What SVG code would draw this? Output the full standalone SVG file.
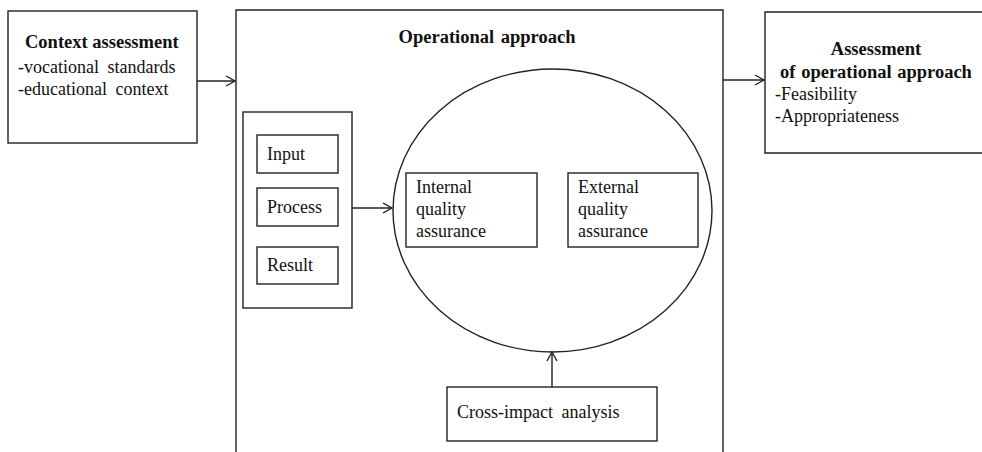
<svg xmlns="http://www.w3.org/2000/svg" width="982" height="452" viewBox="0 0 982 452">
  <defs>
    <style>
      .box { fill: #fff; stroke: #222; stroke-width: 1.4; }
      .ln { fill: none; stroke: #222; stroke-width: 1.4; }
      text { font-family: "Liberation Serif", "Times New Roman", serif; font-size: 18px; fill: #111; }
      .b { font-weight: bold; font-size: 18.5px; }
      .c { text-anchor: middle; }
    </style>
    <marker id="arrow" markerWidth="12" markerHeight="12" refX="10" refY="6" orient="auto" markerUnits="userSpaceOnUse">
      <polyline points="1,1 10,6 1,11" fill="none" stroke="#222" stroke-width="1.4"/>
    </marker>
  </defs>
  <rect width="982" height="452" fill="#fff"/>

  <!-- Context assessment -->
  <g id="context">
    <rect class="box" x="8" y="11" width="189" height="132"/>
    <text class="b" x="25" y="48">Context assessment</text>
    <text x="18" y="73" word-spacing="4">-vocational standards</text>
    <text x="18" y="95" word-spacing="4">-educational context</text>
  </g>

  <!-- Operational approach container (open at the bottom) -->
  <g id="operational">
    <path class="ln" d="M236,452 V10 H723 V452"/>
    <text class="b c" x="487" y="43" word-spacing="2">Operational approach</text>
  </g>

  <!-- Input / Process / Result stack -->
  <g id="ipr">
    <rect class="box" x="243" y="112" width="109" height="196"/>
  </g>
  <g id="input">
    <rect class="box" x="257" y="135" width="81" height="38"/>
    <text x="267" y="160">Input</text>
  </g>
  <g id="process">
    <rect class="box" x="257" y="188" width="81" height="38"/>
    <text x="267" y="213">Process</text>
  </g>
  <g id="result">
    <rect class="box" x="257" y="247" width="81" height="37"/>
    <text x="267" y="271">Result</text>
  </g>

  <!-- Quality assurance ellipse -->
  <g id="quality">
    <ellipse class="ln" cx="552.5" cy="210.5" rx="159.5" ry="141.5"/>
  </g>
  <g id="internal">
    <rect class="box" x="406" y="173" width="131" height="74"/>
    <text x="416" y="193">Internal</text>
    <text x="416" y="215">quality</text>
    <text x="416" y="237">assurance</text>
  </g>
  <g id="external">
    <rect class="box" x="568" y="173" width="130" height="74"/>
    <text x="578" y="193">External</text>
    <text x="578" y="215">quality</text>
    <text x="578" y="237">assurance</text>
  </g>

  <!-- Cross-impact analysis -->
  <g id="cross">
    <rect class="box" x="447" y="387" width="210" height="54"/>
    <text x="457" y="418" word-spacing="4">Cross-impact analysis</text>
  </g>

  <!-- Assessment of operational approach (runs past the right edge) -->
  <g id="assessment">
    <path class="box" d="M990,12 H765 V153 H990"/>
    <text class="b c" x="876" y="55">Assessment</text>
    <text class="b c" x="876" y="78" word-spacing="1">of operational approach</text>
    <text x="775" y="100">-Feasibility</text>
    <text x="775" y="122">-Appropriateness</text>
  </g>

  <!-- Connectors -->
  <g id="connectors">
    <line class="ln" x1="197" y1="81" x2="235" y2="81" marker-end="url(#arrow)"/>
    <line class="ln" x1="352" y1="208" x2="392" y2="208" marker-end="url(#arrow)"/>
    <line class="ln" x1="552" y1="387" x2="552" y2="352" marker-end="url(#arrow)"/>
    <line class="ln" x1="723" y1="80" x2="764" y2="80" marker-end="url(#arrow)"/>
  </g>
</svg>
